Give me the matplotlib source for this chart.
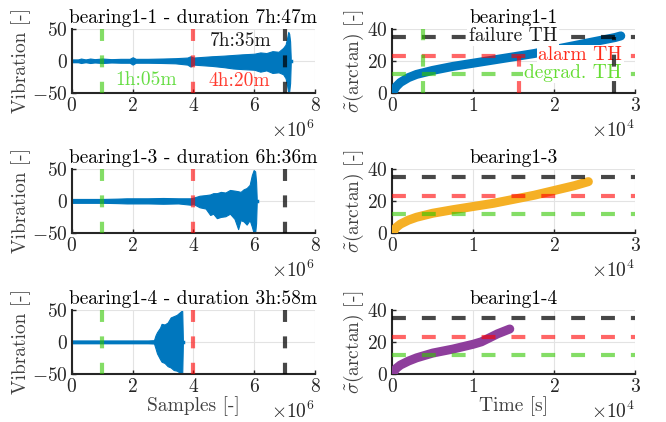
import numpy as np
import matplotlib
matplotlib.use("Agg")
import matplotlib.pyplot as plt
from matplotlib.ticker import ScalarFormatter

plt.rcParams['font.family'] = ['cmr10', 'DejaVu Serif']
plt.rcParams['mathtext.fontset'] = 'cm'
plt.rcParams['axes.formatter.use_mathtext'] = True
plt.rcParams['axes.unicode_minus'] = True
plt.rcParams['lines.scale_dashes'] = False

# ---------------- data ----------------
titles_left = ["bearing1-1 - duration 7h:47m",
               "bearing1-3 - duration 6h:36m",
               "bearing1-4 - duration 3h:58m"]
titles_right = ["bearing1-1", "bearing1-3", "bearing1-4"]

# vibration envelopes (x in samples)
vib11_x = np.array([0, 0.2, 0.3, 0.45, 0.6, 0.75, 1.0, 1.3, 1.6, 1.9, 2.0, 2.1, 2.5, 3.0, 3.4, 3.8, 3.9, 4.0,
                    4.3, 4.6, 5.0, 5.3, 5.6, 6.0, 6.2, 6.4, 6.6, 6.8, 6.95, 7.03, 7.08, 7.12, 7.15, 7.18, 7.2]) * 1e6
vib11_up = np.array([2, 2, 3.5, 2, 3.5, 2.5, 3.5, 2.5, 3, 3, 5.5, 3, 3, 3.5, 4, 5, 7, 5,
                     6, 7, 8, 9, 10, 11, 13, 12, 15, 14, 20, 25, 35, 45, 42, 30, 5])
vib11_lo = np.array([-2, -2, -3.5, -2, -3.5, -2.5, -3.5, -2.5, -3, -3, -6, -3, -3, -3.5, -4, -6, -9, -6,
                     -7, -8, -10, -12, -13, -14, -17, -15, -19, -18, -21, -27, -38, -50, -48, -35, -5])

vib13_x = np.array([0, 0.5, 1.0, 1.5, 1.8, 2.0, 2.5, 3.0, 3.5, 3.9, 4.0, 4.2, 4.4, 4.55, 4.65, 4.77, 4.9,
                    5.05, 5.2, 5.35, 5.47, 5.55, 5.65, 5.75, 5.85, 5.92, 5.98, 6.03, 6.06, 6.08]) * 1e6
vib13_up = np.array([3, 3, 3, 3.5, 4, 4, 4, 4.5, 4, 4, 5, 8, 9, 10, 12, 12, 14,
                     13, 17, 16, 15, 14, 18, 20, 25, 40, 48, 46, 30, 5])
vib13_lo = np.array([-3, -3, -3, -3.5, -4, -4, -4, -4.5, -4, -6, -5, -10, -12, -22, -20, -27, -25,
                     -24, -20, -28, -44, -30, -32, -37, -30, -40, -50, -50, -35, -5])

vib14_x = np.array([0, 0.5, 1.0, 1.5, 2.0, 2.5, 2.7, 2.75, 2.8, 2.9, 2.95, 3.05, 3.15, 3.25, 3.35, 3.45,
                    3.55, 3.6, 3.63, 3.65]) * 1e6
vib14_up = np.array([2, 2, 2, 2, 2, 2, 2.5, 10, 15, 22, 28, 27, 30, 38, 40, 42, 46, 48, 48, 5])
vib14_lo = np.array([-2, -2, -2, -2, -2, -2, -2.5, -10, -18, -27, -31, -33, -38, -40, -44, -45, -48, -50, -50, -5])

vib_x = [vib11_x, vib13_x, vib14_x]
vib_up = [vib11_up, vib13_up, vib14_up]
vib_lo = [vib11_lo, vib13_lo, vib14_lo]

# markers of degradation / alarm / failure (samples)
vline_pos = [1e6, 4e6, 7e6]

# health indicator curves (time in s)
hi11_t = np.array([0, 0.05, 0.1, 0.2, 0.3, 0.5, 0.75, 1.0, 1.25, 1.5, 1.75, 2.0, 2.25, 2.5, 2.75, 2.82]) * 1e4
hi11_v = np.array([0, 4, 6.5, 9.5, 11.5, 14, 16.5, 18.5, 20.5, 22.5, 24.5, 27, 29.5, 32, 34.5, 35.5])
hi13_t = np.array([0, 0.05, 0.1, 0.2, 0.3, 0.5, 0.75, 1.0, 1.25, 1.5, 1.75, 2.0, 2.25, 2.42]) * 1e4
hi13_v = np.array([0, 3.5, 5.5, 8, 9.8, 12.3, 14.5, 16.5, 18.5, 21, 23.5, 26.5, 29.5, 32])
hi14_t = np.array([0, 0.05, 0.1, 0.2, 0.3, 0.5, 0.75, 1.0, 1.1, 1.2, 1.3, 1.45]) * 1e4
hi14_v = np.array([0, 3.5, 5.5, 8, 10, 13, 15.5, 18.5, 20, 22.5, 25, 28])
hi_t = [hi11_t, hi13_t, hi14_t]
hi_v = [hi11_v, hi13_v, hi14_v]

# thresholds
th_failure = 35
th_alarm = 23
th_degrad = 12
# crossing times for bearing1-1
cross_degrad = 0.38e4
cross_alarm = 1.57e4
cross_failure = 2.74e4

# ---------------- style ----------------
c_blue = '#0077BE'
c_orange = '#F5B025'
c_purple = '#8E3E9C'
c_green = (0.2, 0.78, 0.0, 0.6)
c_red = (1.0, 0.0, 0.0, 0.6)
c_black = (0.0, 0.0, 0.0, 0.72)
curve_colors = [c_blue, c_orange, c_purple]
vdash = (0, (8.6, 10.4))
hdash = (0, (10, 11.5))
LW = 3.0
FS = 14

fig = plt.figure(figsize=(6.66, 4.22), dpi=100)

lefts = [0.108, 0.589]
w = 0.365
bottoms = [0.780, 0.448, 0.114]
h = 0.152


def style(ax):
    for s in ['top', 'right']:
        ax.spines[s].set_visible(False)
    for s in ['left', 'bottom']:
        ax.spines[s].set_color('#262626')
        ax.spines[s].set_linewidth(1.5)
    ax.grid(True, color='#e3e3e3', linewidth=0.8)
    ax.set_axisbelow(True)
    ax.tick_params(direction='in', length=3, width=1, colors='#262626', labelsize=FS, pad=3)
    ax.xaxis.get_offset_text().set_fontsize(FS)
    ax.xaxis.get_offset_text().set_color('#262626')


for i in range(3):
    # left column
    ax = fig.add_axes([lefts[0], bottoms[i], w, h])
    ax.fill_between(vib_x[i], vib_lo[i], vib_up[i], color=c_blue, linewidth=0.8, edgecolor=c_blue, zorder=2)
    ax.plot(vib_x[i], np.zeros_like(vib_x[i]), color=c_blue, lw=2.5, zorder=2)
    for pos, col in zip(vline_pos, [c_green, c_red, c_black]):
        ax.plot([pos, pos], [50, -50], color=col, lw=LW, linestyle=vdash, zorder=4, solid_capstyle='butt')
    ax.set_xlim(0, 8e6)
    ax.set_ylim(-50, 50)
    ax.set_xticks([0, 2e6, 4e6, 6e6, 8e6])
    ax.set_yticks([-50, 0, 50])
    fmt = ScalarFormatter(useMathText=True)
    fmt.set_powerlimits((0, 0))
    ax.xaxis.set_major_formatter(fmt)
    style(ax)
    ax.set_title(titles_left[i], fontsize=FS, pad=4)
    ax.set_ylabel('Vibration [-]', fontsize=FS, color='#404040', labelpad=1)
    if i == 0:
        ax.text(5.56e6, 30, '7h:35m', fontsize=FS, color='#1a1a1a', ha='center', va='center', zorder=5)
        ax.text(5.5e6, -31, '4h:20m', fontsize=FS, color='#FF3B2F', ha='center', va='center', zorder=5)
        ax.text(2.44e6, -30, '1h:05m', fontsize=FS, color='#66DD44', ha='center', va='center', zorder=5)
    if i == 2:
        ax.set_xlabel('Samples [-]', fontsize=FS, color='#404040', labelpad=0)

    # right column
    ax = fig.add_axes([lefts[1], bottoms[i], w, h])
    ax.plot(hi_t[i], hi_v[i], color=curve_colors[i], lw=6.5, solid_capstyle='round',
            solid_joinstyle='round', zorder=3)
    for th, col in zip([th_failure, th_alarm, th_degrad], [c_black, c_red, c_green]):
        ax.plot([0, 3e4], [th, th], color=col, lw=LW, linestyle=hdash, zorder=4, solid_capstyle='butt')
    if i == 0:
        bb = dict(facecolor='white', edgecolor='none', pad=1.0)
        ax.text(1.49e4, 35.5, 'failure TH', fontsize=FS, color='#1a1a1a', ha='center', va='center',
                bbox=bb, zorder=5)
        ax.text(2.32e4, 23.5, 'alarm TH', fontsize=FS, color='#FF2A1A', ha='center', va='center',
                bbox=bb, zorder=5)
        ax.text(2.23e4, 12.3, 'degrad. TH', fontsize=FS, color='#66DD33', ha='center', va='center',
                bbox=bb, zorder=5)
        ax.plot([cross_degrad, cross_degrad], [0, 40], color=c_green, lw=LW, linestyle=vdash, zorder=6)
        ax.plot([cross_alarm, cross_alarm], [0, th_alarm], color=c_red, lw=LW, linestyle=vdash, zorder=6)
        ax.plot([cross_failure, cross_failure], [0, th_failure], color=c_black, lw=LW, linestyle=vdash, zorder=6)
    ax.set_xlim(0, 3e4)
    ax.set_ylim(0, 40)
    ax.set_xticks([0, 1e4, 2e4, 3e4])
    ax.set_yticks([0, 20, 40])
    fmt = ScalarFormatter(useMathText=True)
    fmt.set_powerlimits((0, 0))
    ax.xaxis.set_major_formatter(fmt)
    style(ax)
    ax.set_title(titles_right[i], fontsize=FS, pad=4)
    ax.set_ylabel(r'$\tilde{\sigma}$(arctan) [-]', fontsize=FS, color='#404040', labelpad=1)
    if i == 2:
        ax.set_xlabel('Time [s]', fontsize=FS, color='#404040', labelpad=0)

fig.savefig('out.png', dpi=100)
